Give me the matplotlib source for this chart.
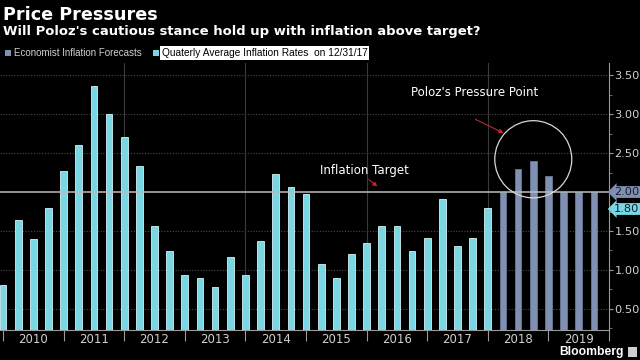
import numpy as np
import matplotlib
matplotlib.use("Agg")
import matplotlib.pyplot as plt
from matplotlib.patches import Ellipse, Rectangle
from matplotlib.ticker import FixedLocator, MultipleLocator

# ---------------- data ----------------
actual_quarters = ['2009Q4',
                   '2010Q1', '2010Q2', '2010Q3', '2010Q4',
                   '2011Q1', '2011Q2', '2011Q3', '2011Q4',
                   '2012Q1', '2012Q2', '2012Q3', '2012Q4',
                   '2013Q1', '2013Q2', '2013Q3', '2013Q4',
                   '2014Q1', '2014Q2', '2014Q3', '2014Q4',
                   '2015Q1', '2015Q2', '2015Q3', '2015Q4',
                   '2016Q1', '2016Q2', '2016Q3', '2016Q4',
                   '2017Q1', '2017Q2', '2017Q3', '2017Q4']
actual_values = [0.81,
                 1.64, 1.40, 1.80, 2.27,
                 2.60, 3.36, 3.00, 2.70,
                 2.34, 1.57, 1.24, 0.94,
                 0.90, 0.78, 1.17, 0.94,
                 1.37, 2.23, 2.07, 1.97,
                 1.08, 0.90, 1.21, 1.34,
                 1.57, 1.57, 1.24, 1.41,
                 1.91, 1.31, 1.41, 1.80]
forecast_quarters = ['2018Q1', '2018Q2', '2018Q3', '2018Q4',
                     '2019Q1', '2019Q2', '2019Q3']
forecast_values = [2.00, 2.30, 2.40, 2.20, 2.00, 2.00, 2.00]
years = ['2010', '2011', '2012', '2013', '2014', '2015', '2016', '2017', '2018', '2019']
target = 2.00
y_ticks = [0.50, 1.00, 1.50, 2.50, 3.00, 3.50]

# ---------------- style ----------------
BG = '#000000'
CYAN = '#79d6e3'
CYAN_EDGE = '#d4f4f8'
SLATE = '#7f90b3'
GRID = '#3a3a3a'
TXT = '#d0d0d0'
W, H = 640, 360

fig = plt.figure(figsize=(6.4, 3.6), dpi=100, facecolor=BG)
ax = fig.add_axes([0.0, 0.0833, 0.9516, 0.7417], facecolor=BG)
renderer = fig.canvas.get_renderer()


def fit_width(t, px):
    """scale a text's font size so that it spans px pixels"""
    w = t.get_window_extent(renderer=renderer).width
    t.set_fontsize(t.get_fontsize() * px / w)
    return t


all_q = actual_quarters + forecast_quarters
pos = {q: i for i, q in enumerate(all_q)}
xa = [pos[q] for q in actual_quarters]
xf = [pos[q] for q in forecast_quarters]

ax.bar(xa, actual_values, width=0.44, color=CYAN, edgecolor=CYAN_EDGE,
       linewidth=0.6, zorder=3)
ax.bar(xf, forecast_values, width=0.44, color=SLATE, edgecolor=SLATE,
       linewidth=0.4, zorder=3)

ax.set_xlim(-0.2, 40)
ax.set_ylim(0.23, 3.655)

# gridlines
for v in np.arange(0.5, 3.51, 0.5):
    if abs(v - target) > 1e-6:
        ax.axhline(v, color='#4a4a4a', lw=0.8, ls=(0, (1, 1.5)), zorder=1)
for xv in [8, 16, 24, 32]:
    ax.axvline(xv, color=GRID, lw=0.8, zorder=1)

ax.axhline(target, color='#bdbdbd', lw=1.1, zorder=4)

# spines
for s in ['top', 'left']:
    ax.spines[s].set_visible(False)
for s in ['bottom', 'right']:
    ax.spines[s].set_color('#9a9a9a')
    ax.spines[s].set_linewidth(0.8)

# x axis: year boundaries as ticks, year names centred
boundaries = [4 * k for k in range(len(years) + 1)]
ax.xaxis.set_major_locator(FixedLocator(boundaries))
ax.xaxis.set_minor_locator(FixedLocator([4 * k + 2 for k in range(len(years))]))
ax.set_xticklabels([''] * len(boundaries))
ax.set_xticklabels(years, minor=True)
ax.tick_params(axis='x', which='major', length=8, color='#9a9a9a', width=0.8)
ax.tick_params(axis='x', which='minor', length=0, labelsize=8.5,
               labelcolor=TXT, pad=2)

# y axis on the right
ax.yaxis.tick_right()
ax.yaxis.set_major_locator(FixedLocator(y_ticks))
ax.yaxis.set_minor_locator(MultipleLocator(0.25))
ax.set_yticklabels([f'{v:.2f}' for v in y_ticks])
ax.tick_params(axis='y', which='major', length=3, color='#9a9a9a',
               labelsize=8.2, labelcolor=TXT, pad=1)
ax.tick_params(axis='y', which='minor', length=2, color='#7a7a7a')

# value tags
ax.annotate(f'{target:.2f}', xy=(1.0, target), xycoords=('axes fraction', 'data'),
            xytext=(3.5, 0), textcoords='offset points', ha='left', va='center',
            fontsize=8.2, color='#1a1a2a',
            bbox=dict(boxstyle='larrow,pad=0.08', fc=SLATE, ec='none'), zorder=6,
            annotation_clip=False)
ax.annotate(f'{actual_values[-1]:.2f}', xy=(1.0, actual_values[-1]),
            xycoords=('axes fraction', 'data'),
            xytext=(3.5, -1), textcoords='offset points', ha='left', va='center',
            fontsize=8.2, color='#1a1a2a',
            bbox=dict(boxstyle='larrow,pad=0.08', fc=CYAN, ec='none'), zorder=6,
            annotation_clip=False)

# annotations
ax.text(20.95, 2.28, 'Inflation Target', color='white', fontsize=8.5,
        ha='left', va='center', zorder=6)
ax.annotate('', xy=(24.85, 2.05), xytext=(24.0, 2.18),
            arrowprops=dict(arrowstyle='-|>', color='#c0282a', lw=0.8,
                            mutation_scale=6), zorder=6)
ax.text(26.95, 3.28, "Poloz's Pressure Point", color='white', fontsize=8.5,
        ha='left', va='center', zorder=6)
ax.annotate('', xy=(33.2, 2.74), xytext=(31.0, 2.95),
            arrowprops=dict(arrowstyle='-|>', color='#c0282a', lw=0.8,
                            mutation_scale=6), zorder=6)
ax.add_patch(Ellipse((35.0, 2.42), width=5.08, height=0.99, fill=False,
                     ec='#d8d8d8', lw=0.9, zorder=5))

# titles
t1 = fig.text(3 / W, 1 - 15 / H, 'Price Pressures', color='white', fontsize=13,
              fontweight='bold', family='DejaVu Sans', ha='left', va='center')
fit_width(t1, 154)
t2 = fig.text(3 / W, 1 - 32 / H,
              "Will Poloz's cautious stance hold up with inflation above target?",
              color='white', fontsize=10, fontweight='bold', family='DejaVu Sans',
              ha='left', va='center')
fit_width(t2, 478)

# legend (manual)
fig.patches.append(Rectangle((5 / W, 1 - 56 / H), 6 / W, 6 / H,
                             transform=fig.transFigure, fc=SLATE, ec='none'))
l1 = fig.text(14 / W, 1 - 53 / H, 'Economist Inflation Forecasts', color=TXT,
              fontsize=7, family='Liberation Sans', ha='left', va='center')
fit_width(l1, 129)
fig.patches.append(Rectangle((153 / W, 1 - 56 / H), 6 / W, 6 / H,
                             transform=fig.transFigure, fc=CYAN, ec='none'))
l2 = fig.text(162 / W, 1 - 53 / H, 'Quaterly Average Inflation Rates  on 12/31/17',
              color='black', fontsize=7, family='Liberation Sans',
              ha='left', va='center',
              bbox=dict(boxstyle='square,pad=0.15', fc='white', ec='none'))
fit_width(l2, 205)

tb = fig.text(624 / W, 1 - 352 / H, 'Bloomberg', color='white', fontsize=9.5,
              fontweight='bold', family='Liberation Sans', ha='right', va='center')
fit_width(tb, 64)
fig.patches.append(Rectangle((628 / W, 1 - 357 / H), 9 / W, 10 / H,
                             transform=fig.transFigure, fc='#cfcfcf', ec='none'))

fig.savefig('out.png', dpi=100, facecolor=BG)
